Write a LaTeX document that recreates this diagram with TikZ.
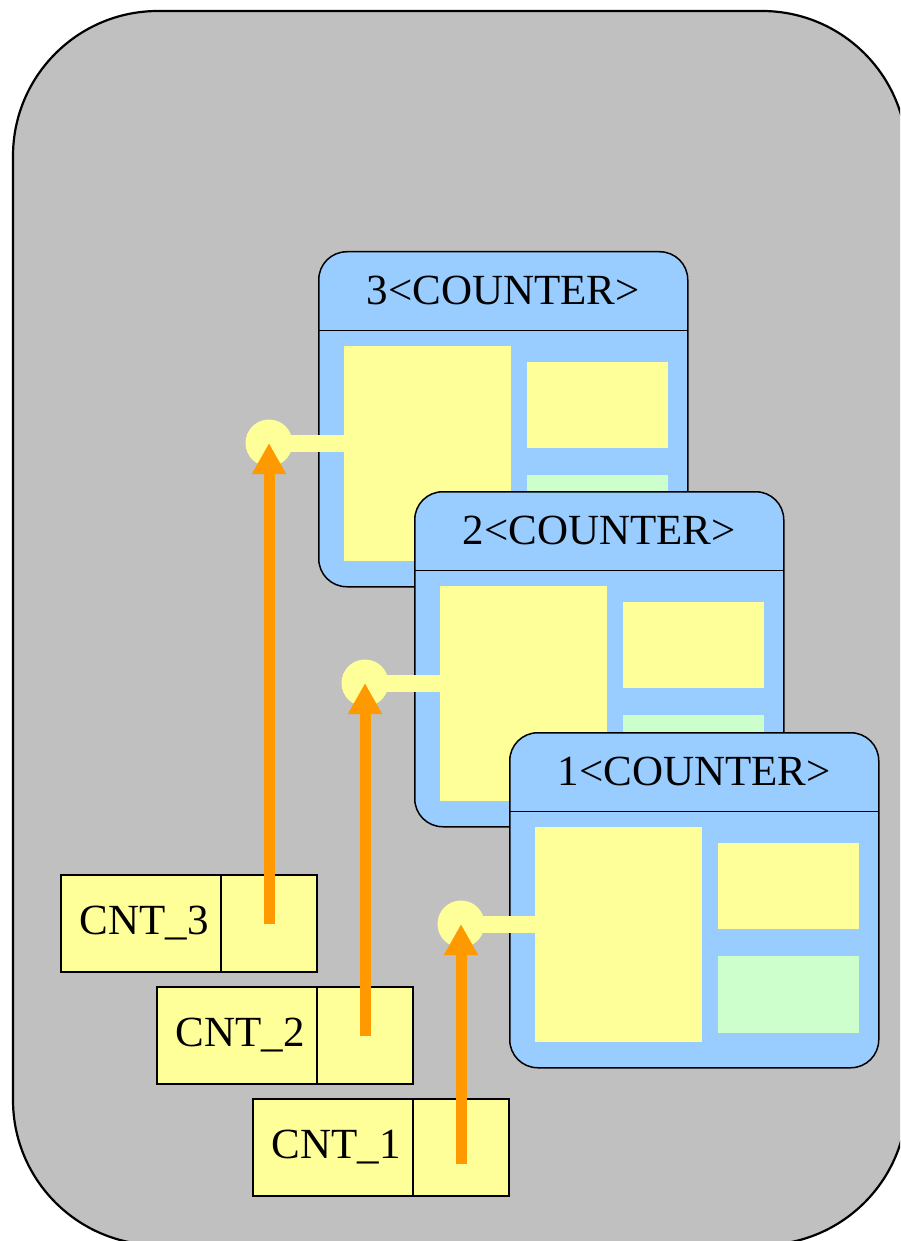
\documentclass[tikz,border=0pt]{standalone}
\usepackage{fontspec}
\setmainfont{Liberation Serif}
\usetikzlibrary{arrows.meta,positioning,calc}
\definecolor{bggray}{HTML}{C0C0C0}
\definecolor{ctrblue}{HTML}{99CCFF}
\definecolor{slotyellow}{HTML}{FFFF99}
\definecolor{slotgreen}{HTML}{CCFFCC}
\definecolor{ptrorange}{HTML}{FF9900}

\begin{document}
\begin{tikzpicture}[x=1pt,y=-1pt,
  font=\fontsize{43}{50}\selectfont,
  every node/.style={inner sep=0pt},
  ctrbox/.style={draw,line width=1.5pt,fill=ctrblue,rounded corners=28pt,
    minimum width=369pt,minimum height=335pt,anchor=north west},
  ctrhead/.style={minimum width=369pt,minimum height=79pt,anchor=north},
  slot/.style={fill=slotyellow,anchor=north west},
  port/.style={circle,fill=slotyellow,minimum size=47pt},
  portline/.style={slotyellow,line width=17pt},
  cntcell/.style={draw,line width=1.3pt,fill=slotyellow,minimum height=97pt,outer sep=0pt},
  ptr/.style={ptrorange,line width=11pt,-{Triangle[length=31pt,width=32pt]}}]
\useasboundingbox (0,0) rectangle (900,1241);
\clip (0,0) rectangle (900,1241);
\draw[fill=bggray,line width=2.2pt,rounded corners=145pt] (13,11) rectangle (907,1245);

% counters, back to front
\foreach \i/\x/\y/\cx/\cy/\t in {3/318/251/61/875/0pt,2/414/491/157/987/0pt,1/509/732/253/1099/-16pt} {
  \node[ctrbox] (ctr\i) at (\x,\y) {};
  \node[ctrhead] (ctr\i-head) at (ctr\i.north) {\i<COUNTER>};
  \draw[line width=1.5pt] (ctr\i-head.south west) -- (ctr\i-head.south east);
  \node[slot,minimum width=167pt,minimum height=215pt] (ctr\i-a) at (\x+26,\y+95) {};
  \node[slot,minimum width=141pt,minimum height=86pt] (ctr\i-b) at (\x+209,\y+111) {};
  \node[slot,fill=slotgreen,minimum width=141pt,minimum height=77pt] (ctr\i-c) at (\x+209,\y+224) {};
  % CNT_i entry
  \node[cntcell,minimum width=160pt,anchor=north west] (cnt\i) at (\cx,\cy) {\hspace*{6pt}CNT\_\i};
  \node[cntcell,minimum width=96pt,right=0pt of cnt\i] (cnt\i-val) {};
  \node[port] (port\i) at (\cx+208,\y+192) {};
  \draw[portline] (port\i.center) -- (port\i.center -| ctr\i-a.west);
  \draw[ptr] ([yshift=\t]cnt\i-val.center) -- (port\i.center);
}
\end{tikzpicture}
\end{document}
